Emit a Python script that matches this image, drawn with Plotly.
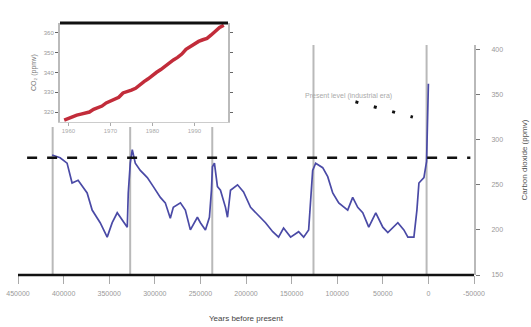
import plotly.graph_objects as go

# Vostok ice core CO2 record (years before present, ppmv)
years_bp = [412600, 403800, 396200, 390700, 384100, 374200, 368700, 359900, 352200,
            346700, 341200, 335700, 330200, 329100, 326900, 324700, 321400, 315900,
            308200, 301600, 293900, 288500, 283000, 279700, 271900, 266500, 261000,
            253300, 250000, 244500, 240100, 237900, 236800, 234600, 231300, 228000,
            222500, 220300, 217000, 209300, 202700, 195000, 184100, 178600, 170700,
            164300, 158800, 151100, 142300, 136800, 131300, 129100, 126900, 123600,
            115900, 110400, 104900, 98300, 88500, 83000, 77500, 72000, 65400, 57700,
            50000, 44500, 33500, 26900, 22500, 15900, 12600, 10400, 4900, 2000, 0]
co2_ppmv = [283, 280, 274, 252, 255, 241, 222, 208, 192,
            208, 219, 211, 203, 241, 274, 289, 274, 266,
            258, 248, 236, 230, 213, 225, 230, 222, 200,
            214, 208, 200, 214, 244, 270, 274, 248, 244,
            225, 214, 244, 250, 242, 225, 214, 208, 198,
            192, 202, 192, 198, 192, 200, 236, 266, 274,
            269, 259, 241, 230, 222, 236, 225, 219, 203, 219,
            203, 197, 208, 200, 192, 192, 222, 252, 258, 276, 362]

# Interglacial peaks marked with vertical rules
peak_years = [412000, 327000, 237000, 126000, 2000]
preindustrial_ppmv = 280

# Mauna Loa annual means for the inset
ml_years = list(range(1959, 1998))
ml_co2 = [315.98, 316.91, 317.64, 318.45, 318.99, 319.62, 320.04, 321.37, 322.18,
          323.05, 324.62, 325.68, 326.32, 327.46, 329.68, 330.19, 331.12, 332.03,
          333.84, 335.41, 336.84, 338.76, 340.12, 341.48, 343.15, 344.85, 346.35,
          347.61, 349.31, 351.69, 353.20, 354.45, 355.70, 356.54, 357.21, 358.96,
          360.97, 362.74, 363.88]

x_ticks = list(range(450000, -50001, -50000))
x_ticktext = [str(v) for v in x_ticks]
y_ticks = [150, 200, 250, 300, 350, 400]

# Leader from the note to the modern value
leader_years = [80000, 17000]
leader_ppmv = [342, 325]

W, H = 531, 327
def px(x):
    return x / W
def py(y):
    return 1 - y / H

fig = go.Figure()

fig.add_trace(go.Scatter(x=years_bp, y=co2_ppmv, mode="lines",
                         line=dict(color="#4a4aa6", width=1.7),
                         xaxis="x", yaxis="y", showlegend=False))

fig.add_trace(go.Scatter(x=leader_years, y=leader_ppmv, mode="lines",
                         line=dict(color="#111111", width=3, dash="3px,16px"),
                         xaxis="x", yaxis="y", showlegend=False))

fig.add_trace(go.Scatter(x=ml_years, y=ml_co2, mode="lines",
                         line=dict(color="#c22c3a", width=3.5),
                         xaxis="x2", yaxis="y2", showlegend=False))

shapes = []
for yr in peak_years:
    shapes.append(dict(type="line", xref="x", yref="paper", x0=yr, x1=yr,
                       y0=py(275), y1=py(45), layer="below",
                       line=dict(color="#b9b9b9", width=2)))
# white panel behind the inset
shapes.append(dict(type="rect", xref="paper", yref="paper",
                   x0=px(14), x1=px(232), y0=py(127), y1=1, layer="below",
                   fillcolor="white", line=dict(width=0)))
# pre-industrial reference level
shapes.append(dict(type="line", xref="x", yref="y", x0=440000, x1=-46000,
                   y0=preindustrial_ppmv, y1=preindustrial_ppmv, layer="above",
                   line=dict(color="#111111", width=2.6, dash="10px,10px")))
# heavy baseline
shapes.append(dict(type="line", xref="paper", yref="paper", x0=px(18), x1=px(474),
                   y0=py(275), y1=py(275), layer="above",
                   line=dict(color="#111111", width=2.5)))
# heavy top border of inset
shapes.append(dict(type="line", xref="paper", yref="paper", x0=px(60), x1=px(228),
                   y0=py(23), y1=py(23), layer="above",
                   line=dict(color="#111111", width=3)))

fig.update_layout(
    width=W, height=H,
    margin=dict(l=0, r=0, t=0, b=0),
    paper_bgcolor="white", plot_bgcolor="rgba(0,0,0,0)",
    font=dict(family="Liberation Sans, Arial, sans-serif", size=7, color="#888888"),
    shapes=shapes,
    xaxis=dict(domain=[px(18), px(474)], range=[450000, -50000], automargin=False,
               tickmode="array", tickvals=x_ticks, ticktext=x_ticktext,
               ticks="outside", ticklen=8, tickcolor="#aaaaaa", tickwidth=1,
               ticklabelstandoff=4,
               showline=False, showgrid=False, zeroline=False,
               tickfont=dict(size=7, color="#999999"),
               title=dict(text="Years before present", standoff=18,
                          font=dict(size=8, color="#444444"))),
    yaxis=dict(domain=[py(275), py(45)], range=[150, 405], side="right",
               anchor="x", automargin=False, tickmode="array", tickvals=y_ticks,
               ticks="outside", ticklen=4, tickcolor="#777777",
               ticklabelstandoff=10,
               showline=True, linecolor="#b9b9b9", linewidth=2,
               showgrid=False, zeroline=False,
               tickfont=dict(size=7, color="#999999"),
               title=dict(text="Carbon dioxide (ppmv)", standoff=19,
                          font=dict(size=8, color="#555555"))),
    xaxis2=dict(domain=[px(60), px(228)], range=[1958, 1998], anchor="y2",
                automargin=False, dtick=10, ticks="outside", ticklen=3,
                tickcolor="#aaaaaa", showline=True, linecolor="#cccccc", linewidth=1,
                showgrid=False, zeroline=False,
                tickfont=dict(size=6, color="#aaaaaa")),
    yaxis2=dict(domain=[py(122), py(23)], range=[315, 365], anchor="x2",
                automargin=False, dtick=10, ticks="outside", ticklen=3,
                tickcolor="#666666", showline=True, linecolor="#bbbbbb",
                linewidth=2, mirror="ticks", showgrid=False, zeroline=False,
                tickfont=dict(size=6, color="#999999"),
                title=dict(text="CO\u2082 (ppmv)", standoff=6,
                           font=dict(size=7, color="#777777"))),
    annotations=[dict(x=px(348), y=py(90), xref="paper", yref="paper",
                      text="Present level (industrial era)", showarrow=False,
                      font=dict(size=7, color="#aaaaaa"))],
)

fig.write_html("out.html")
